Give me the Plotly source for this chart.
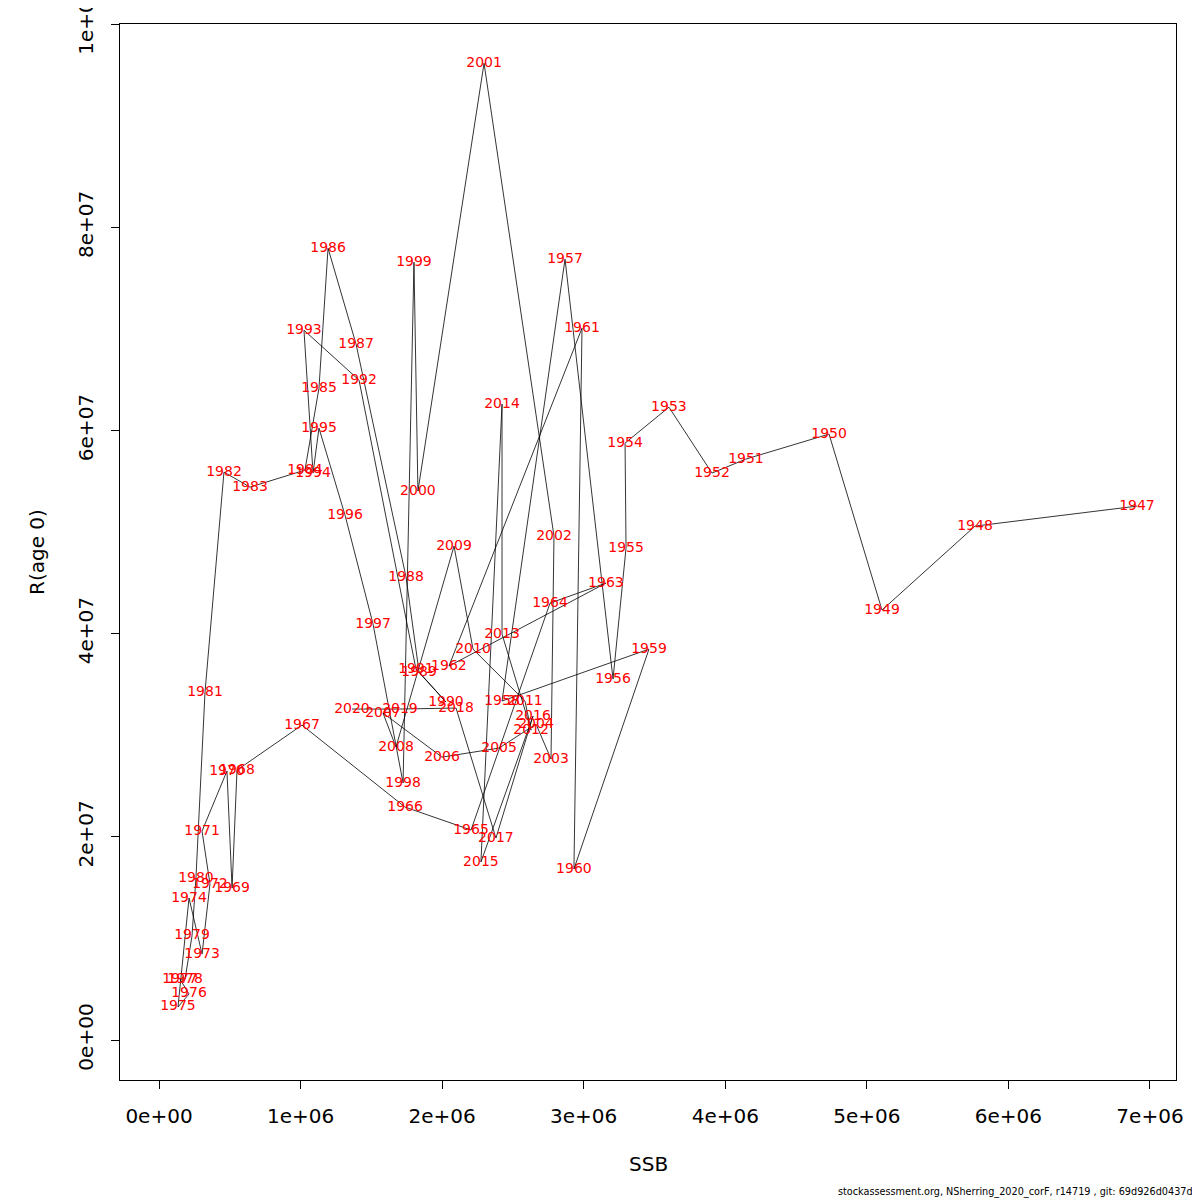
import plotly.graph_objects as go

years = list(range(1947, 2021))

# SSB (tonnes)
ssb = [6.908e6, 5.764e6, 5.107e6, 4.733e6, 4.146e6, 3.906e6, 3.602e6, 3.292e6, 3.299e6, 3.207e6,
       2.868e6, 2.423e6, 3.461e6, 2.931e6, 2.988e6, 2.048e6, 3.157e6, 2.762e6, 2.204e6, 1.738e6,
       1.010e6, 0.551e6, 0.516e6, 0.480e6, 0.304e6, 0.360e6, 0.304e6, 0.212e6, 0.134e6, 0.212e6,
       0.148e6, 0.184e6, 0.233e6, 0.261e6, 0.325e6, 0.459e6, 0.643e6, 1.031e6, 1.130e6, 1.194e6,
       1.392e6, 1.745e6, 1.837e6, 2.027e6, 1.815e6, 1.413e6, 1.024e6, 1.088e6, 1.130e6, 1.314e6,
       1.512e6, 1.724e6, 1.801e6, 1.829e6, 2.296e6, 2.790e6, 2.769e6, 2.663e6, 2.402e6, 1.999e6,
       1.582e6, 1.674e6, 2.084e6, 2.218e6, 2.585e6, 2.628e6, 2.423e6, 2.423e6, 2.274e6, 2.642e6,
       2.380e6, 2.098e6, 1.702e6, 1.363e6]

# Recruitment (age 0)
rec = [5.256e7, 5.059e7, 4.232e7, 5.965e7, 5.719e7, 5.581e7, 6.230e7, 5.876e7, 4.843e7, 3.553e7,
       7.687e7, 3.337e7, 3.848e7, 1.683e7, 7.008e7, 3.681e7, 4.498e7, 4.301e7, 2.067e7, 2.293e7,
       3.100e7, 2.657e7, 1.496e7, 2.648e7, 2.057e7, 1.535e7, 0.846e7, 1.398e7, 0.325e7, 0.453e7,
       0.600e7, 0.600e7, 1.024e7, 1.594e7, 3.425e7, 5.591e7, 5.443e7, 5.610e7, 6.417e7, 7.795e7,
       6.850e7, 4.557e7, 3.622e7, 3.327e7, 3.652e7, 6.496e7, 6.988e7, 5.581e7, 6.024e7, 5.167e7,
       4.094e7, 2.530e7, 7.657e7, 5.404e7, 9.616e7, 4.961e7, 2.766e7, 3.110e7, 2.874e7, 2.785e7,
       3.219e7, 2.884e7, 4.862e7, 3.848e7, 3.337e7, 3.051e7, 3.996e7, 6.260e7, 1.752e7, 3.189e7,
       1.988e7, 3.268e7, 3.258e7, 3.258e7]

x_ticks = [0, 1e6, 2e6, 3e6, 4e6, 5e6, 6e6, 7e6]
x_ticklabels = ["0e+00", "1e+06", "2e+06", "3e+06", "4e+06", "5e+06", "6e+06", "7e+06"]
y_ticks = [0, 2e7, 4e7, 6e7, 8e7, 1e8]
y_ticklabels = ["0e+00", "2e+07", "4e+07", "6e+07", "8e+07", "1e+08"]

font_family = "DejaVu Sans"

fig = go.Figure()
fig.add_trace(go.Scatter(
    x=ssb, y=rec, mode="lines",
    line=dict(color="black", width=0.8),
    hoverinfo="skip", showlegend=False,
))
fig.add_trace(go.Scatter(
    x=ssb, y=rec, mode="text",
    text=[str(y) for y in years],
    textposition="middle center",
    textfont=dict(family=font_family, size=14, color="red"),
    cliponaxis=False, showlegend=False,
))

axis_common = dict(
    showgrid=False, zeroline=False,
    showline=True, mirror=True, linecolor="black", linewidth=1,
    ticks="outside", ticklen=8, tickwidth=1, tickcolor="black",
    tickfont=dict(family=font_family, size=20, color="black"),
    ticklabeloverflow="allow", automargin=False,
)

# page has an 8px body margin; figure is offset by it
W, H = 1192, 1192
ML, MR, MT, MB = 112, 24, 16, 120

fig.update_layout(
    width=W, height=H,
    margin=dict(l=ML, r=MR, t=MT, b=MB, autoexpand=False),
    paper_bgcolor="white", plot_bgcolor="white",
    xaxis=dict(range=[-0.2755e6, 7.1837e6], tickvals=x_ticks, ticktext=x_ticklabels,
               ticklabelstandoff=10, **axis_common),
    yaxis=dict(range=[-3.937e6, 1.0002e8], tickvals=y_ticks, ticktext=y_ticklabels,
               tickangle=-90, ticklabelstandoff=10, **axis_common),
)

pw, ph = W - ML - MR, H - MT - MB
off = 8
def px(xp):
    return (xp - off - ML) / pw
def py(yp):
    return (H - MB - (yp - off)) / ph

fig.update_layout(annotations=[
    dict(text="SSB", x=px(648), y=py(1164), xref="paper", yref="paper", showarrow=False,
         xanchor="center", yanchor="middle",
         font=dict(family=font_family, size=20, color="black")),
    dict(text="R(age 0)", x=px(37), y=py(552), xref="paper", yref="paper", showarrow=False,
         xanchor="center", yanchor="middle", textangle=-90,
         font=dict(family=font_family, size=20, color="black")),
    dict(text="stockassessment.org, NSherring_2020_corF, r14719 , git: 69d926d0437d",
         x=px(1195), y=py(1192), xref="paper", yref="paper", showarrow=False,
         xanchor="right", yanchor="middle",
         font=dict(family=font_family, size=9.7, color="black")),
])

fig.write_html("out.html")
